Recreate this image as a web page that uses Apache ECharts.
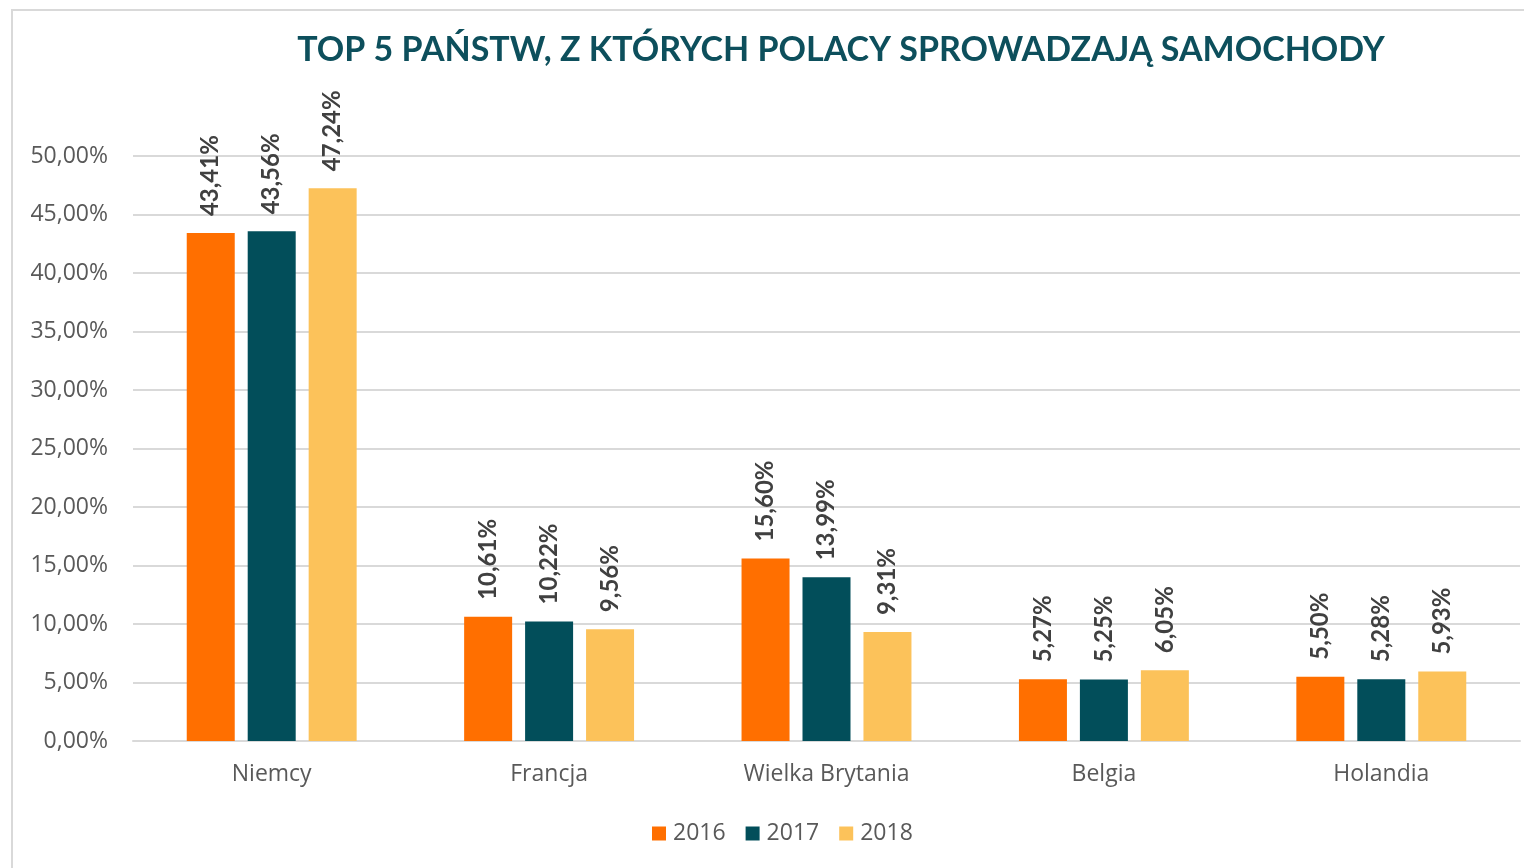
<!DOCTYPE html>
<html>
<head>
<meta charset="utf-8">
<script src="https://cdn.jsdelivr.net/npm/echarts@6/dist/echarts.min.js"></script>
<style>
html, body { margin: 0; padding: 0; background: #fff; }
#chart { width: 1524px; height: 868px; }
</style>
</head>
<body>
<div id="chart"></div>
<script>
var countries = ['Niemcy', 'Francja', 'Wielka Brytania', 'Belgia', 'Holandia'];
var years = ['2016', '2017', '2018'];
var v2016 = [43.41, 10.61, 15.60, 5.27, 5.50];
var v2017 = [43.56, 10.22, 13.99, 5.25, 5.28];
var v2018 = [47.24, 9.56, 9.31, 6.05, 5.93];
var colors = ['#ff6f00', '#024e5a', '#fcc25a'];

function pct(v) {
    return v.toFixed(2).replace('.', ',') + '%';
}

var chart = echarts.init(document.getElementById('chart'));

var valueLists = [v2016, v2017, v2018];
var series = [];
for (var i = 0; i < years.length; i++) {
    series.push({
        name: years[i],
        type: 'bar',
        data: valueLists[i],
        barWidth: 48,
        barGap: '27%',
        itemStyle: { color: colors[i] },
        label: {
            show: true,
            position: 'top',
            rotate: 90,
            align: 'left',
            verticalAlign: 'middle',
            distance: 17,
            fontFamily: 'Lato',
            fontWeight: 'bold',
            fontSize: 24,
            color: '#404040',
            formatter: function (p) { return pct(p.value); }
        }
    });
}

var option = {
    animation: false,
    color: colors,
    title: {
        text: 'TOP 5 PAŃSTW, Z KTÓRYCH POLACY SPROWADZAJĄ SAMOCHODY',
        left: 836,
        textAlign: 'center',
        top: 28,
        textStyle: {
            fontFamily: 'Lato',
            fontWeight: 'bold',
            fontSize: 34,
            color: '#0d4f5c'
        }
    },
    graphic: [{
        type: 'rect',
        shape: { x: 12, y: 10, width: 1600, height: 900 },
        style: { fill: 'none', stroke: '#d9d9d9', lineWidth: 2 },
        silent: true
    }],
    legend: {
        data: years,
        left: 647,
        top: 817,
        icon: 'rect',
        itemWidth: 14,
        itemHeight: 14,
        itemGap: 20,
        textStyle: { fontFamily: 'Open Sans', fontSize: 23, color: '#595959', padding: [0, 0, 0, 2] }
    },
    grid: { left: 133, right: 4, top: 156, bottom: 127 },
    xAxis: {
        type: 'category',
        data: countries,
        axisLine: { lineStyle: { color: '#d9d9d9', width: 2 } },
        axisTick: { show: false },
        axisLabel: { margin: 22, fontFamily: 'Open Sans', fontSize: 23, color: '#595959' }
    },
    yAxis: {
        type: 'value',
        min: 0,
        max: 50,
        interval: 5,
        axisLine: { show: false },
        axisTick: { show: false },
        splitLine: { lineStyle: { color: '#d9d9d9', width: 2 } },
        axisLabel: {
            margin: 25,
            fontFamily: 'Open Sans',
            fontSize: 23,
            color: '#595959',
            formatter: function (v) { return pct(v); }
        }
    },
    series: series
};
chart.setOption(option);
</script>
</body>
</html>
